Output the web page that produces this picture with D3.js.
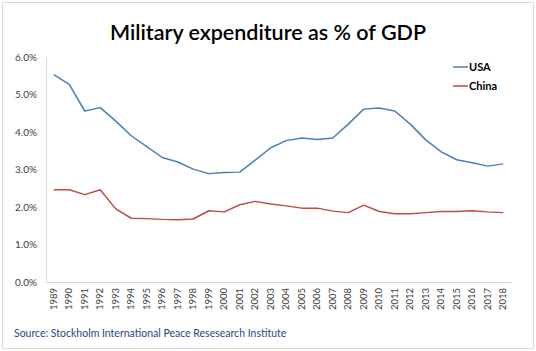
<!DOCTYPE html>
<html lang="en">
<head>
    <meta charset="UTF-8">
    <title>Military expenditure as % of GDP</title>
    <script src="https://d3js.org/d3.v7.min.js"></script>
    <style>
        body { margin: 0; background: #fff; }
        svg { display: block; font-family: Lato, "Open Sans", sans-serif; }
    </style>
</head>
<body>
    <svg id="graph"></svg>

    <script>
        const years = [1989, 1990, 1991, 1992, 1993, 1994, 1995, 1996, 1997, 1998,
            1999, 2000, 2001, 2002, 2003, 2004, 2005, 2006, 2007, 2008,
            2009, 2010, 2011, 2012, 2013, 2014, 2015, 2016, 2017, 2018];

        const usa = [5.53, 5.27, 4.56, 4.65, 4.29, 3.90, 3.61, 3.32, 3.20, 3.01,
            2.89, 2.92, 2.93, 3.25, 3.58, 3.77, 3.84, 3.80, 3.84, 4.21,
            4.61, 4.64, 4.56, 4.21, 3.79, 3.47, 3.26, 3.18, 3.09, 3.15];

        const china = [2.46, 2.46, 2.33, 2.46, 1.95, 1.70, 1.69, 1.67, 1.66, 1.68,
            1.90, 1.87, 2.06, 2.15, 2.08, 2.03, 1.97, 1.97, 1.89, 1.85,
            2.05, 1.88, 1.82, 1.82, 1.85, 1.88, 1.88, 1.90, 1.87, 1.85];

        const yTicks = [0, 1, 2, 3, 4, 5, 6];

        const seriesNames = ["USA", "China"];
        const colors = ["#4A7EBB", "#BE4B48"];

        const width = 536;
        const height = 351;
        const margins = { top: 57, right: 25, bottom: 69, left: 46 };

        const svg = d3.select("svg").attr("width", width).attr("height", height);

        // outer frame
        svg.append("rect")
            .attr("x", 2.5).attr("y", 2.5)
            .attr("width", width - 5).attr("height", height - 5)
            .attr("fill", "#fff").attr("stroke", "#D9D9D9");

        svg.append("text")
            .attr("x", 268).attr("y", 40)
            .attr("text-anchor", "middle")
            .attr("font-size", 21.5)
            .attr("font-weight", 600)
            .attr("fill", "#000")
            .text("Military expenditure as % of GDP");

        const g = svg.append("g")
            .attr("transform", "translate(" + margins.left + "," + margins.top + ")");

        const plotW = width - margins.left - margins.right;
        const plotH = height - margins.top - margins.bottom;

        const xScale = d3.scaleBand()
            .domain(years)
            .range([0, plotW]);

        const yScale = d3.scaleLinear()
            .domain([0, 6])
            .range([plotH, 0]);

        const yAxis = g.append("g")
            .call(d3.axisLeft(yScale).tickValues(yTicks).tickSize(0).tickPadding(9)
                .tickFormat(d => d.toFixed(1) + "%"));
        yAxis.select(".domain").attr("stroke", "#D9D9D9");
        yAxis.selectAll("text").attr("font-size", 10).attr("fill", "#404040")
            .attr("font-family", "Lato, sans-serif");

        const xAxis = g.append("g")
            .attr("transform", "translate(0," + plotH + ")")
            .call(d3.axisBottom(xScale).tickSize(0).tickSizeOuter(0));
        xAxis.select(".domain").attr("stroke", "#D9D9D9");
        xAxis.selectAll("text")
            .attr("font-size", 9.5)
            .attr("fill", "#404040")
            .attr("font-family", "Lato, sans-serif")
            .attr("transform", "rotate(-90)")
            .attr("text-anchor", "end")
            .attr("dx", "-6")
            .attr("dy", "0.32em")
            .attr("x", 0).attr("y", 0);

        const line = d3.line()
            .x((d, i) => xScale(years[i]) + xScale.bandwidth() / 2)
            .y(d => yScale(d));

        [usa, china].forEach(function(values, k) {
            g.append("path")
                .datum(values)
                .attr("fill", "none")
                .attr("stroke", colors[k])
                .attr("stroke-width", 1.5)
                .attr("stroke-linejoin", "round")
                .attr("d", line);
        });

        // legend
        const legend = svg.append("g");
        seriesNames.forEach(function(name, k) {
            const ly = 67 + k * 19;
            legend.append("line")
                .attr("x1", 453).attr("x2", 468)
                .attr("y1", ly).attr("y2", ly)
                .attr("stroke", colors[k]).attr("stroke-width", 1.5);
            legend.append("text")
                .attr("x", 469).attr("y", ly + 4)
                .attr("font-size", 11).attr("font-weight", 700)
                .text(name);
        });

        svg.append("text")
            .attr("x", 14).attr("y", 337)
            .attr("font-size", 10.5)
            .attr("fill", "#1F497D")
            .text("Source: Stockholm International Peace Resesearch Institute");
    </script>
</body>
</html>
